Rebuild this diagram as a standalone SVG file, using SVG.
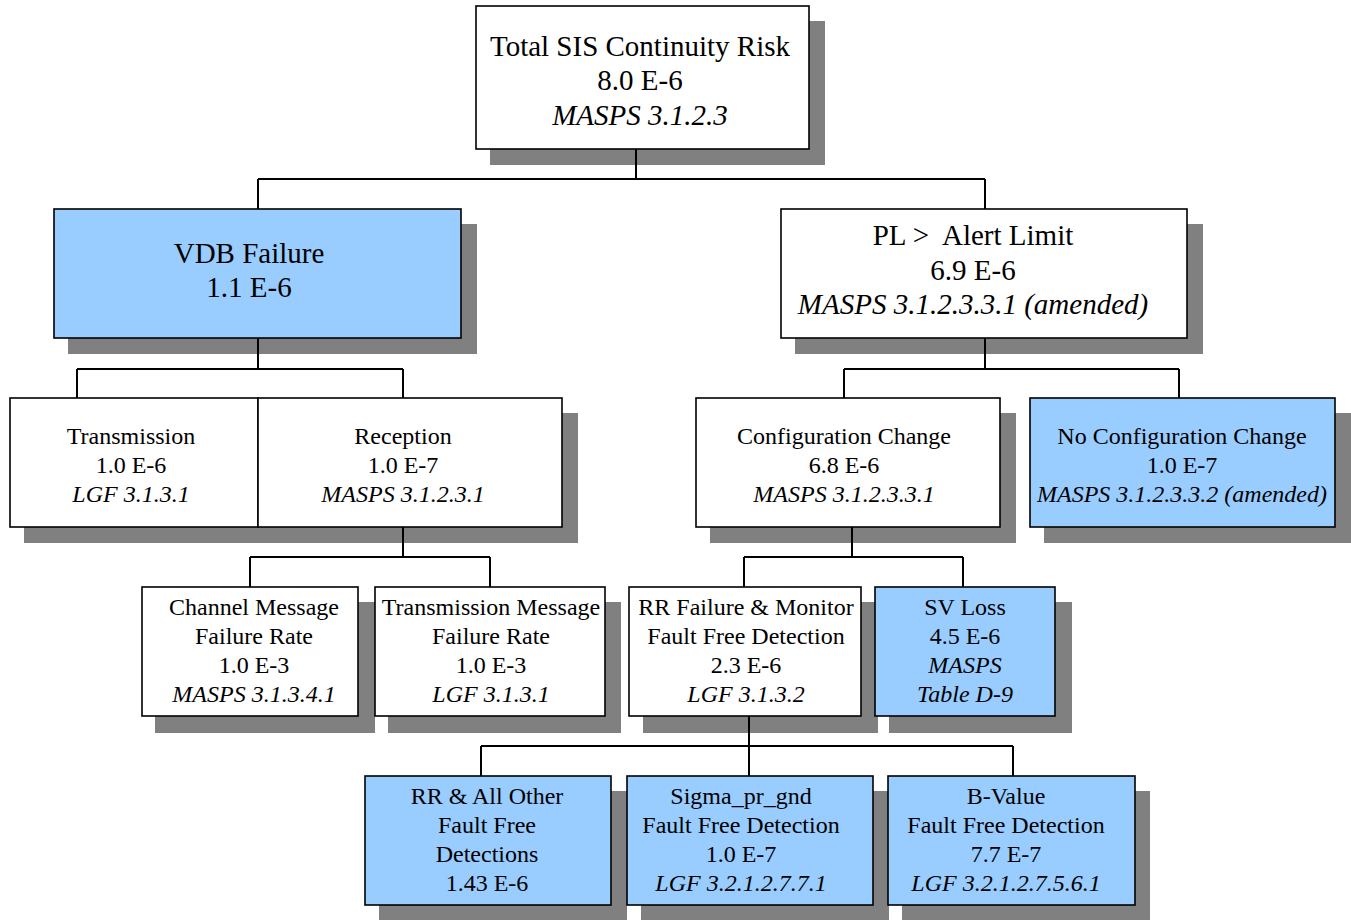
<svg xmlns="http://www.w3.org/2000/svg" width="1351" height="920" viewBox="0 0 1351 920">
<style>
.sh{fill:#808080}
.bx{stroke:#000;stroke-width:1.6}
.w{fill:#fff}
.b{fill:#99CCFF}
text{font-family:"Liberation Serif","Times New Roman",serif;fill:#000;text-anchor:middle}
.l{font-size:29px}
.s{font-size:24px}
.i{font-style:italic}
.c{fill:none;stroke:#000;stroke-width:2}
</style>
<rect width="1351" height="920" fill="#fff"/>
<g id="shadows">
<rect class="sh" x="490" y="21" width="335" height="144"/>
<rect class="sh" x="68" y="224" width="409" height="130"/>
<rect class="sh" x="795" y="224" width="408" height="130"/>
<rect class="sh" x="24" y="413" width="250" height="130"/>
<rect class="sh" x="272" y="413" width="306" height="130"/>
<rect class="sh" x="710" y="413" width="306" height="130"/>
<rect class="sh" x="1044" y="413" width="307" height="130"/>
<rect class="sh" x="155" y="602" width="220" height="131"/>
<rect class="sh" x="388" y="602" width="233" height="131"/>
<rect class="sh" x="643" y="602" width="235" height="131"/>
<rect class="sh" x="889" y="602" width="183" height="131"/>
<rect class="sh" x="379" y="791" width="248" height="129"/>
<rect class="sh" x="641" y="791" width="248" height="129"/>
<rect class="sh" x="902" y="791" width="248" height="129"/>
</g>
<g id="connectors">
<path class="c" d="M636 149V179M258 179H985M258 179V209M985 179V209"/>
<path class="c" d="M258 338V369M77 369H403M77 369V398M403 369V398"/>
<path class="c" d="M985 338V369M844 369H1179M844 369V398M1179 369V398"/>
<path class="c" d="M403 527V557M250 557H490M250 557V587M490 557V587"/>
<path class="c" d="M852 527V557M744 557H963M744 557V587M963 557V587"/>
<path class="c" d="M749 716V746M481 746H1013M481 746V776M749 746V776M1013 746V776"/>
</g>
<g id="total">
<rect class="bx w" x="476" y="6" width="333" height="143"/>
<text class="l" x="640" y="56">Total SIS Continuity Risk</text>
<text class="l" x="640" y="90">8.0 E-6</text>
<text class="l i" x="640" y="125">MASPS 3.1.2.3</text>
</g>
<g id="vdb">
<rect class="bx b" x="54" y="209" width="407" height="129"/>
<text class="l" x="249" y="263">VDB Failure</text>
<text class="l" x="249" y="297">1.1 E-6</text>
</g>
<g id="pl">
<rect class="bx w" x="781" y="209" width="406" height="129"/>
<text class="l" x="973" y="245">PL &gt;&#160; Alert Limit</text>
<text class="l" x="973" y="280">6.9 E-6</text>
<text class="l i" x="973" y="314">MASPS 3.1.2.3.3.1 (amended)</text>
</g>
<g id="transmission">
<rect class="bx w" x="10" y="398" width="248" height="129"/>
<text class="s" x="131" y="444">Transmission</text>
<text class="s" x="131" y="473">1.0 E-6</text>
<text class="s i" x="131" y="502">LGF 3.1.3.1</text>
</g>
<g id="reception">
<rect class="bx w" x="258" y="398" width="304" height="129"/>
<text class="s" x="403" y="444">Reception</text>
<text class="s" x="403" y="473">1.0 E-7</text>
<text class="s i" x="403" y="502">MASPS 3.1.2.3.1</text>
</g>
<g id="config">
<rect class="bx w" x="696" y="398" width="304" height="129"/>
<text class="s" x="844" y="444">Configuration Change</text>
<text class="s" x="844" y="473">6.8 E-6</text>
<text class="s i" x="844" y="502">MASPS 3.1.2.3.3.1</text>
</g>
<g id="noconfig">
<rect class="bx b" x="1030" y="398" width="305" height="129"/>
<text class="s" x="1182" y="444">No Configuration Change</text>
<text class="s" x="1182" y="473">1.0 E-7</text>
<text class="s i" x="1182" y="502">MASPS 3.1.2.3.3.2 (amended)</text>
</g>
<g id="channel">
<rect class="bx w" x="142" y="587" width="216" height="129"/>
<text class="s" x="254" y="615">Channel Message</text>
<text class="s" x="254" y="644">Failure Rate</text>
<text class="s" x="254" y="673">1.0 E-3</text>
<text class="s i" x="254" y="702">MASPS 3.1.3.4.1</text>
</g>
<g id="txmsg">
<rect class="bx w" x="375" y="587" width="230" height="129"/>
<text class="s" x="491" y="615">Transmission Message</text>
<text class="s" x="491" y="644">Failure Rate</text>
<text class="s" x="491" y="673">1.0 E-3</text>
<text class="s i" x="491" y="702">LGF 3.1.3.1</text>
</g>
<g id="rrfail">
<rect class="bx w" x="629" y="587" width="232" height="129"/>
<text class="s" x="746" y="615">RR Failure &amp; Monitor</text>
<text class="s" x="746" y="644">Fault Free Detection</text>
<text class="s" x="746" y="673">2.3 E-6</text>
<text class="s i" x="746" y="702">LGF 3.1.3.2</text>
</g>
<g id="svloss">
<rect class="bx b" x="875" y="587" width="180" height="129"/>
<text class="s" x="965" y="615">SV Loss</text>
<text class="s" x="965" y="644">4.5 E-6</text>
<text class="s i" x="965" y="673">MASPS</text>
<text class="s i" x="965" y="702">Table D-9</text>
</g>
<g id="rrall">
<rect class="bx b" x="365" y="776" width="246" height="129"/>
<text class="s" x="487" y="804">RR &amp; All Other</text>
<text class="s" x="487" y="833">Fault Free</text>
<text class="s" x="487" y="862">Detections</text>
<text class="s" x="487" y="891">1.43 E-6</text>
</g>
<g id="sigma">
<rect class="bx b" x="627" y="776" width="246" height="129"/>
<text class="s" x="741" y="804">Sigma_pr_gnd</text>
<text class="s" x="741" y="833">Fault Free Detection</text>
<text class="s" x="741" y="862">1.0 E-7</text>
<text class="s i" x="741" y="891">LGF 3.2.1.2.7.7.1</text>
</g>
<g id="bvalue">
<rect class="bx b" x="888" y="776" width="247" height="129"/>
<text class="s" x="1006" y="804">B-Value</text>
<text class="s" x="1006" y="833">Fault Free Detection</text>
<text class="s" x="1006" y="862">7.7 E-7</text>
<text class="s i" x="1006" y="891">LGF 3.2.1.2.7.5.6.1</text>
</g>
</svg>
